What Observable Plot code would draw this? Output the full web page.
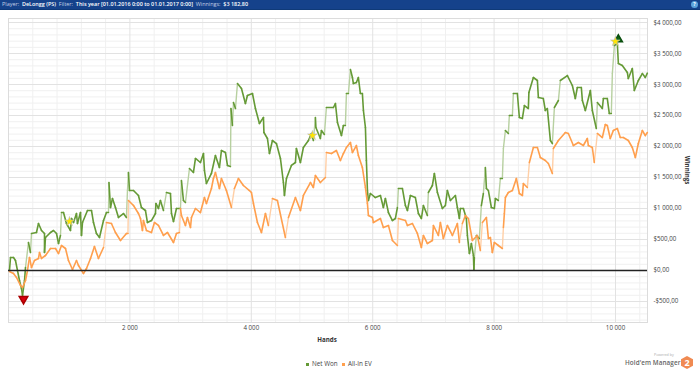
<!DOCTYPE html>
<html><head><meta charset="utf-8">
<script src="https://cdn.jsdelivr.net/npm/d3@7"></script>
<script src="https://cdn.jsdelivr.net/npm/@observablehq/plot@0.6"></script>
<style>
html,body{margin:0;padding:0;background:#fff;overflow:hidden}
#wrap{position:relative;width:700px;height:371px;font-family:"Open Sans",sans-serif;overflow:hidden}
#bar{position:absolute;left:0;top:0;width:700px;height:9px;background:#15428b;border-bottom:1px solid #0f3a78;color:#c3d0e6;font-size:5.45px;line-height:9px;white-space:pre;padding-left:2px;box-sizing:content-box}
#bar b{color:#fff;font-weight:600}
#help{position:absolute;left:691px;top:1px;width:7px;height:7px;border-radius:50%;background:#5aa3dc;color:#fff;font-size:5px;line-height:7px;text-align:center;font-weight:700}
.leg{position:absolute;top:360px;font-size:6.3px;line-height:8px;color:#444}
.sw{position:absolute;top:362.5px;width:3px;height:3px}
#pow{position:absolute;left:654px;top:352px;font-size:3.6px;color:#aaa;line-height:5px}
#hem{position:absolute;left:625px;top:359px;font-size:6.3px;line-height:8px;color:#666;letter-spacing:.1px;font-weight:600}
#hex{position:absolute;left:681px;top:356px;width:12px;height:13px;background:#f08a52;color:#fff;font-size:9px;line-height:13px;font-weight:700;text-align:center;clip-path:polygon(50% 0,100% 25%,100% 75%,50% 100%,0 75%,0 25%)}
svg{position:absolute;left:0;top:0}
</style></head><body>
<div id="wrap"></div>
<script>
const netWonHands=[16,33,82,115,148,181,214,231,264,280,329,362,379,461,494,544,593,593,609,692,741,791,824,856,873,906,955,1021,1038,1071,1120,1136,1186,1202,1219,1301,1367,1400,1449,1499,1565,1614,1647,1655,1680,1713,1762,1812,1894,1943,1960,1976,1993,2059,2141,2190,2256,2289,2355,2421,2429,2470,2503,2553,2602,2668,2685,2718,2767,2833,2849,2882,2915,2981,3047,3080,3162,3212,3228,3261,3343,3409,3475,3508,3574,3607,3656,3665,3689,3706,3739,3772,3838,3903,3936,4019,4068,4134,4200,4208,4266,4299,4348,4414,4480,4529,4546,4579,4661,4727,4743,4809,4858,4941,4990,5023,5056,5064,5138,5155,5204,5237,5353,5386,5419,5485,5517,5550,5567,5600,5633,5666,5682,5731,5764,5797,5830,5847,5880,5896,5913,5929,5962,6044,6127,6176,6209,6259,6325,6374,6407,6423,6489,6539,6572,6621,6703,6753,6802,6835,6901,6917,6983,7016,7066,7148,7197,7230,7280,7362,7395,7428,7444,7494,7543,7560,7593,7626,7659,7667,7675,7708,7757,7790,7823,7856,7873,7906,7955,8004,8021,8070,8103,8136,8153,8186,8235,8251,8301,8317,8383,8416,8466,8499,8564,8573,8647,8713,8729,8811,8844,8877,8927,8960,8993,9059,9091,9207,9289,9338,9371,9437,9454,9503,9586,9618,9684,9701,9783,9800,9865,9898,9931,9948,9981,10030,10047,10112,10195,10211,10277,10310,10376,10442,10491,10524];
const netWonValues=[0,210,210,161,0,-161,-290,-403,-161,48,452,290,597,613,758,645,597,290,532,613,645,597,435,565,935,935,758,645,839,774,919,758,935,565,774,968,968,774,597,532,806,935,935,1420,1016,1161,1016,855,919,855,1290,1581,1290,1290,1210,1016,968,774,806,919,1081,1000,1129,968,1258,1242,919,790,1000,1000,1452,1129,1097,1645,1581,1807,1742,1887,1613,1403,1565,1855,1661,1936,1903,1694,1677,2613,2339,2710,2613,3016,2936,2694,2823,2855,2613,2371,2468,2226,2129,1887,2097,2048,1807,1419,1210,1484,1694,1742,1968,1742,1984,2097,2210,2097,2468,2307,2129,2258,2194,2629,2629,2694,2387,2178,2339,2339,2855,2855,3242,3113,3016,3032,3113,2855,2855,2581,2307,1774,1290,1129,1242,1177,1210,1016,1161,935,806,839,1016,1323,1323,1048,968,1210,1177,919,839,1048,887,1258,1371,1565,1258,1000,1048,1290,1129,1210,1016,839,1000,1000,839,565,274,435,242,16,210,565,516,1048,1242,1661,1323,1290,1016,1000,1161,1129,1484,1484,1968,2258,2210,2500,2500,2855,2855,2468,2452,2661,2613,2871,3113,3065,2790,2774,2581,2613,2097,2048,2629,2742,3065,3145,2984,2774,2952,2952,2742,2581,2903,2581,2290,2710,2613,2774,2774,2532,2532,3177,3629,3661,3339,3307,3194,3097,3258,2903,3065,3177,3113,3182.8];
const allInEvHands=[16,82,132,198,231,280,313,346,379,428,494,511,544,609,692,774,824,873,939,988,1054,1120,1153,1235,1285,1351,1416,1482,1565,1614,1696,1762,1845,1943,1968,1976,2059,2141,2174,2207,2223,2273,2355,2405,2470,2553,2619,2718,2767,2816,2833,2849,2915,2948,2998,3014,3080,3162,3228,3261,3343,3376,3409,3475,3508,3590,3673,3722,3788,3870,3969,4002,4035,4101,4167,4233,4282,4348,4430,4562,4612,4727,4809,4858,4974,5023,5056,5138,5221,5237,5320,5402,5468,5517,5567,5633,5666,5731,5764,5830,5880,5913,5929,5995,6012,6127,6176,6259,6325,6407,6423,6539,6572,6654,6736,6802,6835,6901,6983,7000,7082,7115,7164,7230,7313,7395,7428,7477,7527,7576,7642,7724,7774,7807,7873,7906,7939,7971,8004,8070,8136,8153,8169,8186,8235,8301,8367,8416,8466,8482,8548,8581,8647,8713,8762,8844,8894,8960,8976,9059,9174,9223,9306,9388,9470,9536,9553,9618,9651,9701,9783,9832,9865,9914,9964,10030,10079,10129,10211,10277,10327,10376,10442,10491,10524];
const allInEvValues=[-16,-48,-113,-242,-274,-161,0,210,48,161,194,290,194,242,355,355,274,403,355,161,16,161,81,-48,32,194,387,194,371,774,758,613,484,597,597,1129,1048,919,839,645,806,645,613,774,726,565,613,452,597,613,1000,887,726,855,694,855,1000,935,1177,1081,1323,1484,1581,1323,1484,1290,1016,1323,1484,1371,1290,1258,1081,774,613,919,726,1161,1129,532,855,1177,968,1210,1419,1339,1532,1419,1500,1903,1887,1936,1774,1887,1984,2065,1903,2016,1855,1661,1339,1081,887,855,774,839,694,726,484,403,839,806,726,758,597,371,565,435,484,726,565,774,516,726,565,758,452,758,887,839,484,565,323,774,855,516,532,290,452,403,355,694,919,1177,1258,1290,1484,1242,1210,1403,1339,1742,1984,1984,1823,1774,1726,1565,1968,2097,2226,2210,2016,2065,2016,2129,2016,1984,1742,2210,2145,2355,2339,2129,2258,2290,2145,2145,2097,1984,1823,2048,2258,2177,2226];
const starHands=[1005,5007,9997], starValues=[790,2178,3694];
const lowHand=[247], lowValue=[-460];
const highHand=[10047], highValue=[3726];
const xTicks=[2000,4000,6000,8000,10000];
const xMinor=[400,800,1200,1600,2400,2800,3200,3600,4400,4800,5200,5600,6400,6800,7200,7600,8400,8800,9200,9600,10400];
const yTicks=[-500,0,500,1000,1500,2000,2500,3000,3500,4000];
const yMinor=[-800,-700,-600,-400,-300,-200,-100,100,200,300,400,600,700,800,900,1100,1200,1300,1400,1600,1700,1800,1900,2100,2200,2300,2400,2600,2700,2800,2900,3100,3200,3300,3400,3600,3700,3800,3900];

const spaced=n=>String(n).replace(/\B(?=(\d{3})+$)/g," ");
const money=v=>(v<0?"-":"")+"$"+spaced(Math.abs(v))+",00";
const segs=(xs,ys)=>xs.slice(1).map((x,i)=>({x1:xs[i],y1:ys[i],x2:x,y2:ys[i+1],
  steep:ys[i+1]>ys[i]&&(ys[i+1]-ys[i])/Math.max(x-xs[i],1)>5&&(ys[i+1]-ys[i])>280}));
const seriesMarks=(xs,ys,c,light)=>{const s=segs(xs,ys);return [
  Plot.link(s.filter(d=>d.steep),{x1:"x1",y1:"y1",x2:"x2",y2:"y2",stroke:light,strokeWidth:1.4,strokeLinecap:"round"}),
  Plot.link(s.filter(d=>!d.steep),{x1:"x1",y1:"y1",x2:"x2",y2:"y2",stroke:c,strokeWidth:1.6,strokeLinecap:"round"})
];};

const chart=Plot.plot({
  width:700,height:371,marginLeft:8,marginRight:53,marginTop:18,marginBottom:49,
  style:{fontFamily:'"Open Sans",sans-serif',fontSize:"6.2px",color:"#444",background:"transparent"},
  x:{domain:[0,10527],label:null},
  y:{domain:[-839,4065],label:null},
  marks:[
    Plot.ruleX(xMinor,{stroke:"#f0f0f0",strokeWidth:1}),
    Plot.ruleY(yMinor,{stroke:"#f0f0f0",strokeWidth:1}),
    Plot.ruleX(xTicks,{stroke:"#e2e2e2",strokeWidth:1}),
    Plot.ruleY(yTicks,{stroke:"#e2e2e2",strokeWidth:1}),
    Plot.frame({stroke:"#dcdcdc",strokeWidth:1}),
    Plot.axisX({ticks:xTicks,tickSize:0,tickPadding:3,tickFormat:spaced,label:null}),
    Plot.axisY({anchor:"right",ticks:yTicks,tickSize:0,tickPadding:6,tickFormat:money,label:null}),
    ...seriesMarks(netWonHands,netWonValues,"#659a36","#b7d0a0"),
    ...seriesMarks(allInEvHands,allInEvValues,"#ff9f4d","#ffcfa6"),
    Plot.ruleY([0],{stroke:"#222",strokeWidth:1.5}),
    Plot.dot(lowHand,{x:()=>lowHand[0],y:()=>lowValue[0],symbol:"triangle",rotate:180,r:3.2,fill:"#d8000c",stroke:"#a00"}),
    Plot.dot(highHand,{x:()=>highHand[0],y:()=>highValue[0],symbol:"triangle",r:3,fill:"#0d6b12",stroke:"#0a4d0e"}),
    Plot.dot(starHands,{x:d=>d,y:(d,i)=>starValues[i],symbol:"star",r:3,fill:"#ffe600",stroke:"#bbb",strokeWidth:.6})
  ]
});
const wrap=document.getElementById("wrap");
wrap.appendChild(chart);
const ns="http://www.w3.org/2000/svg";
const addText=(txt,x,y,rot)=>{const e=document.createElementNS(ns,"text");e.textContent=txt;
  e.setAttribute("transform",`translate(${x},${y}) rotate(${rot})`);e.setAttribute("text-anchor","middle");
  e.setAttribute("font-size","6.2");e.setAttribute("font-weight","700");e.setAttribute("fill","#333");chart.appendChild(e);};
addText("Hands",327,342,0);
addText("Winnings",685,170,90);
wrap.insertAdjacentHTML("beforeend",`
<div id="bar">Player:  <b>DeLongg (PS)</b>  Filter:  <b>This year [01.01.2016 0:00 to 01.01.2017 0:00]</b>  Winnings:  <b>$3 182,80</b></div>
<div id="help">?</div>
<div class="sw" style="left:305.5px;background:#659a36"></div><div class="leg" style="left:312px">Net Won</div>
<div class="sw" style="left:342px;background:#ff9f4d"></div><div class="leg" style="left:348px">All-In EV</div>
<div id="pow">Powered by</div><div id="hem">Hold'em Manager</div><div id="hex">2</div>`);
</script>
</body></html>
